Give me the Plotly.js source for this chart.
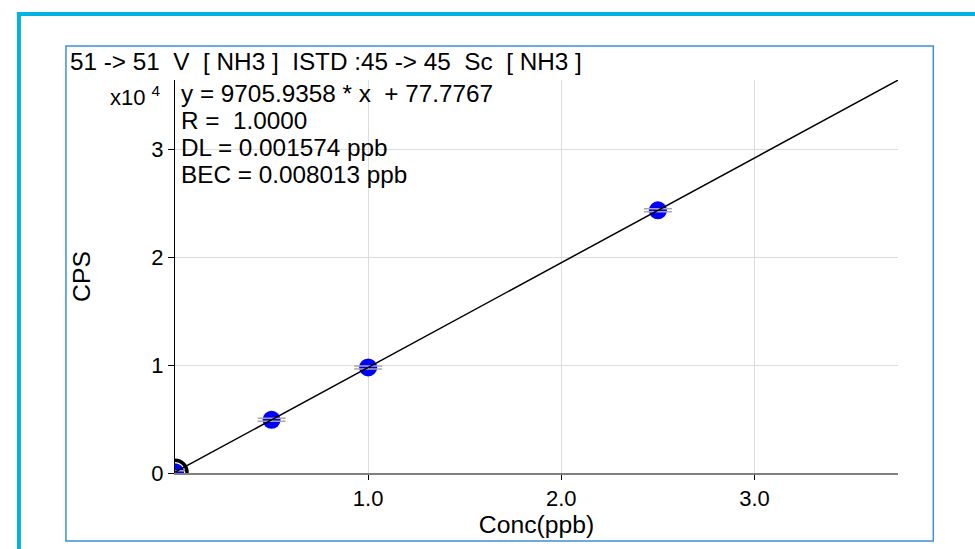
<!DOCTYPE html>
<html>
<head>
<meta charset="utf-8">
<script src="https://cdn.plot.ly/plotly-3.0.1.min.js"></script>
<style>html,body{margin:0;padding:0;background:#fff;}#chart{width:975px;height:549px;}</style>
</head>
<body>
<div id="chart"></div>
<script>
// ---- data ----
const concPpb = [0, 0.5, 1.0, 2.5];
const cps = [78, 4930, 9780, 24340];
const fitSlope = 9705.9358;
const fitIntercept = 77.7767;
const fitLines = [
  "y = 9705.9358 * x\u00a0\u00a0+ 77.7767",
  "R =\u00a0\u00a01.0000",
  "DL = 0.001574 ppb",
  "BEC = 0.008013 ppb"
];
const chartTitle = "51 -> 51\u00a0\u00a0V\u00a0\u00a0[ NH3 ]\u00a0\u00a0ISTD :45 -> 45\u00a0\u00a0Sc\u00a0\u00a0[ NH3 ]";
const xTickVals = [1, 2, 3];
const xTickText = ["1.0", "2.0", "3.0"];
const yTickVals = [0, 10000, 20000, 30000];
const yTickText = ["0", "1", "2", "3"];
const xMax = 3.743;
const yMax = 36420;

// ---- geometry helpers (pixel -> paper) ----
const W = 975, H = 549;
const L = 175, R = 897.7, T = 80, B = 473;
const px2x = p => (p - L) / (R - L);
const py2y = p => (B - p) / (B - T);
const FONT = "Liberation Sans, Arial, sans-serif";
const FS = 22;      // tick labels
const FT = 24.3;    // title / fit text
const FA = 24.7;    // axis titles

const fitX = [0, xMax];
const fitY = fitX.map(x => fitSlope * x + fitIntercept);

const traces = [
  { x: concPpb, y: cps, type: "scatter", mode: "markers",
    marker: { color: "#0000ff", size: 18 }, hoverinfo: "skip" },
  { x: concPpb, y: cps, type: "scatter", mode: "markers",
    marker: { color: "rgba(0,0,0,0)", size: 1 },
    error_y: { type: "constant", value: 140, width: 14, thickness: 1.5, color: "#a8a8a8" },
    hoverinfo: "skip" },
  { x: fitX, y: fitY, type: "scatter", mode: "lines",
    line: { color: "#000", width: 1.5 }, hoverinfo: "skip" },
  { x: [concPpb[0]], y: [cps[0]], type: "scatter", mode: "markers",
    marker: { symbol: "circle-open", size: 24, color: "#000", line: { width: 3.5, color: "#000" } },
    hoverinfo: "skip" }
];

const annotations = fitLines.map((t, i) => ({
  text: t, xref: "paper", yref: "paper", x: px2x(179), y: py2y(93 + i * 27.3),
  xanchor: "left", yanchor: "middle", showarrow: false,
  font: { family: FONT, size: FT, color: "#000" }
}));
annotations.push({
  text: "x10 <sup>4</sup>", xref: "paper", yref: "paper", x: px2x(163), y: py2y(96),
  xanchor: "right", yanchor: "middle", showarrow: false,
  font: { family: FONT, size: FS, color: "#000" }
});

const shapes = [
  { type: "rect", xref: "paper", yref: "paper", x0: px2x(17), x1: px2x(980), y0: py2y(12), y1: py2y(16),
    fillcolor: "#00b3e3", line: { width: 0 } },
  { type: "rect", xref: "paper", yref: "paper", x0: px2x(17), x1: px2x(21), y0: py2y(12), y1: py2y(560),
    fillcolor: "#00b3e3", line: { width: 0 } },
  { type: "rect", xref: "paper", yref: "paper", x0: px2x(66), x1: px2x(933), y0: py2y(46), y1: py2y(541),
    fillcolor: "rgba(0,0,0,0)", line: { width: 1.5, color: "#3c8fdd" } }
];

const layout = {
  width: W, height: H,
  margin: { l: L, r: W - R, t: T, b: H - B, pad: 0 },
  paper_bgcolor: "#fff", plot_bgcolor: "#fff",
  showlegend: false, hovermode: false,
  font: { family: FONT, size: FS, color: "#000" },
  title: { text: chartTitle, xref: "container", yref: "container", x: 70 / W, y: 1 - 61 / H,
           xanchor: "left", yanchor: "middle", font: { family: FONT, size: FT, color: "#000" } },
  xaxis: {
    range: [0, xMax], tickvals: xTickVals, ticktext: xTickText,
    ticks: "outside", ticklen: 5, tickcolor: "#000", tickwidth: 1,
    showline: true, linecolor: "#808080", linewidth: 2,
    showgrid: true, gridcolor: "#dcdcdc", gridwidth: 1, zeroline: false,
    tickfont: { family: FONT, size: FS, color: "#000" },
    title: { text: "Conc(ppb)", standoff: 4, font: { family: FONT, size: FA, color: "#000" } }
  },
  yaxis: {
    range: [0, yMax], tickvals: yTickVals, ticktext: yTickText,
    ticks: "outside", ticklen: 6, tickcolor: "#000", tickwidth: 1,
    showline: true, linecolor: "#000", linewidth: 1,
    showgrid: true, gridcolor: "#dcdcdc", gridwidth: 1, zeroline: false,
    tickfont: { family: FONT, size: FS, color: "#000" },
    title: { text: "CPS", standoff: 53, font: { family: FONT, size: FA, color: "#000" } }
  },
  annotations: annotations,
  shapes: shapes
};

Plotly.newPlot("chart", traces, layout, { staticPlot: true, displayModeBar: false });
</script>
</body>
</html>
